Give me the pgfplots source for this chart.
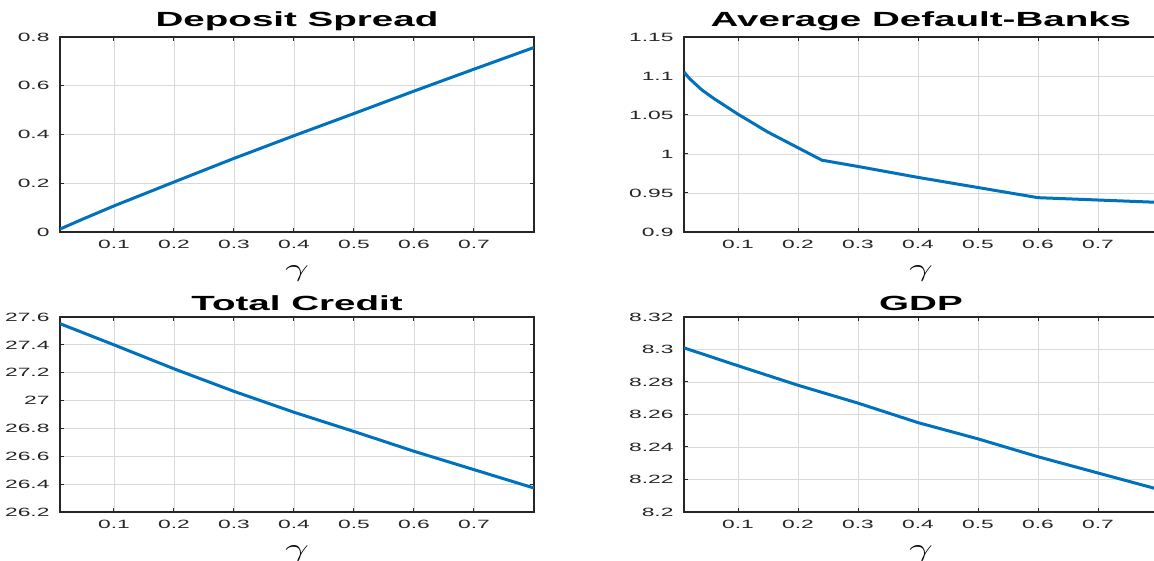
\documentclass[border=0pt]{standalone}
\usepackage{fontspec}
\setmainfont{Liberation Sans}
\usepackage{pgfplots}
\pgfplotsset{compat=1.18}
\definecolor{mblue}{rgb}{0,0.447,0.741}
\definecolor{axgray}{gray}{0.15}
\definecolor{gridgray}{gray}{0.85}

\pgfplotsset{
  panel/.style={
    scale only axis,
    width=474pt, height=195pt,
    xmin=0.01, xmax=0.8,
    xtick={0.1,0.2,0.3,0.4,0.5,0.6,0.7},
    grid=major,
    major grid style={gridgray, line width=0.9pt},
    axis line style={axgray, line width=1.2pt},
    tick style={axgray, line width=1pt},
    tick align=inside,
    major tick length=4pt,
    scaled ticks=false,
    /pgf/number format/assume math mode=true,
    /pgf/number format/precision=3,
    tick label style={font=\fontsize{12}{12}\selectfont, text=axgray, xscale=1.9},
    xticklabel style={yshift=-5pt},
    yticklabel style={xshift=-2pt},
    title style={font=\fontsize{20.5}{22}\selectfont\bfseries, xscale=1.88, yshift=-3pt},
    xlabel={$\gamma$},
    xlabel style={at={(axis description cs:0.5,-0.215)}, anchor=center,
      font=\fontsize{25}{25}\selectfont, xscale=1.7},
    every axis plot post/.append style={mblue, line width=3pt, mark=none},
  }
}

\begin{document}
\begin{tikzpicture}
\useasboundingbox (0,0) rectangle (1154pt,561pt);

% top left
\begin{axis}[panel, at={(60pt,329pt)}, anchor=south west,
  title={Deposit Spread},
  ymin=0, ymax=0.8, ytick={0,0.2,0.4,0.6,0.8}]
\addplot coordinates {
  (0.01,0.012) (0.05,0.055) (0.1,0.107) (0.2,0.205) (0.3,0.302)
  (0.4,0.395) (0.5,0.486) (0.6,0.578) (0.7,0.668) (0.8,0.757)
};
\end{axis}

% top right
\begin{axis}[panel, at={(684pt,329pt)}, anchor=south west,
  title={Average Default-Banks},
  ymin=0.9, ymax=1.15, ytick={0.9,0.95,1,1.05,1.1,1.15}]
\addplot coordinates {
  (0.01,1.105) (0.02,1.096) (0.04,1.082) (0.06,1.071) (0.08,1.061)
  (0.1,1.051) (0.15,1.028) (0.2,1.008) (0.24,0.992) (0.3,0.984)
  (0.4,0.970) (0.5,0.957) (0.6,0.944) (0.7,0.941) (0.8,0.938)
};
\end{axis}

% bottom left
\begin{axis}[panel, at={(60pt,49pt)}, anchor=south west,
  title={Total Credit},
  ymin=26.2, ymax=27.6, ytick={26.2,26.4,26.6,26.8,27,27.2,27.4,27.6}]
\addplot coordinates {
  (0.01,27.552) (0.1,27.400) (0.2,27.228) (0.3,27.066) (0.4,26.916)
  (0.5,26.778) (0.6,26.636) (0.7,26.504) (0.8,26.372)
};
\end{axis}

% bottom right
\begin{axis}[panel, at={(684pt,49pt)}, anchor=south west,
  title={GDP},
  ymin=8.2, ymax=8.32, ytick={8.2,8.22,8.24,8.26,8.28,8.3,8.32}]
\addplot coordinates {
  (0.01,8.301) (0.1,8.290) (0.2,8.278) (0.3,8.267) (0.4,8.255)
  (0.5,8.245) (0.6,8.234) (0.7,8.224) (0.8,8.214)
};
\end{axis}
\end{tikzpicture}
\end{document}
